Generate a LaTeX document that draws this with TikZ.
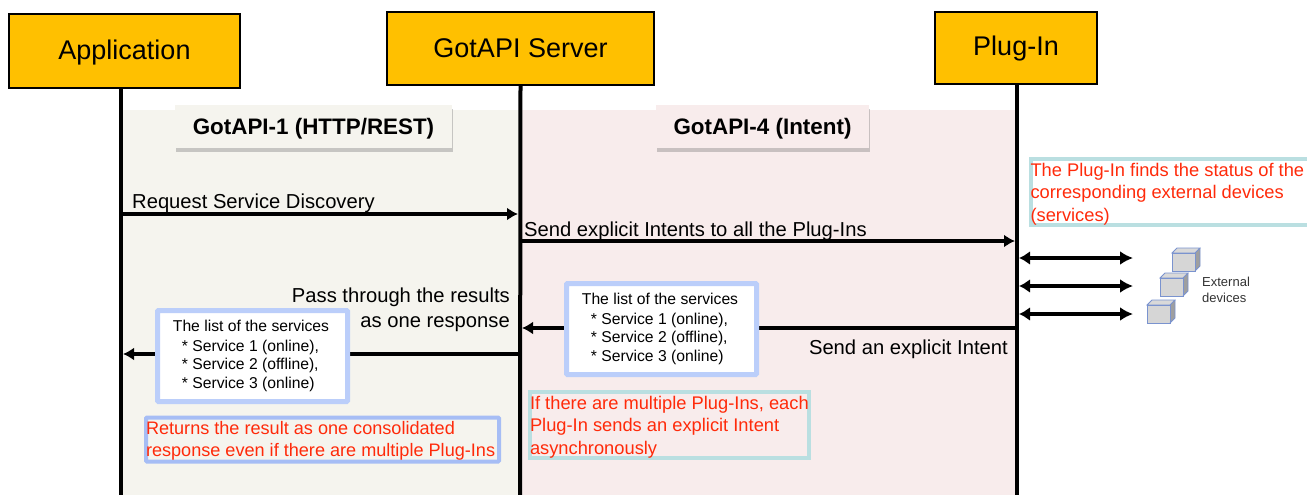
\documentclass[tikz,border=0pt]{standalone}
\usepackage{fontspec}
\setmainfont{Liberation Sans}
\usetikzlibrary{positioning,arrows.meta,calc,shadows}

\definecolor{headfill}{HTML}{FFC000}
\definecolor{leftzone}{HTML}{F5F4EE}
\definecolor{rightzone}{HTML}{F8ECEC}
\definecolor{listedge}{HTML}{BBCEFA}
\definecolor{noteblue}{HTML}{A6BDF5}
\definecolor{noteteal}{HTML}{BADFE1}
\definecolor{notered}{HTML}{FF2A0A}
\definecolor{cubeedge}{HTML}{7A93CF}

\newcommand{\noteblock}[4]{\raisebox{#1}[#2][#2]{\parbox[c]{#3}{#4}}}

\begin{document}
\begin{tikzpicture}[
  x=1pt, y=-1pt,
  head/.style={draw, line width=2pt, fill=headfill, inner sep=0pt, font=\fontsize{27}{30}\selectfont},
  tab/.style={inner sep=0pt, minimum height=43pt, font=\bfseries\fontsize{22.4}{24}\selectfont, drop shadow={shadow xshift=1pt, shadow yshift=-4pt, opacity=0.4}},
  life/.style={line width=4pt},
  arr/.style={-{Latex[length=11pt,width=13pt]}, line width=4pt},
  both/.style={{Latex[length=11pt,width=14pt]}-{Latex[length=13pt,width=14pt]}, line width=4.5pt},
  msg/.style={inner sep=0pt, font=\fontsize{20.2}{25}\selectfont},
  list/.style={draw=listedge, line width=5pt, fill=white, rounded corners=1pt, inner sep=0pt, align=left, font=\fontsize{15.7}{18.8}\selectfont},
  note/.style={line width=4pt, inner sep=0pt, text=notered, font=\fontsize{18.3}{22.2}\selectfont},
  cubeside/.style={draw=cubeedge, line width=0.8pt}
]
\useasboundingbox (0,0) rectangle (1307,495);

% zones
\fill[leftzone] (121,110) rectangle (520,495);
\fill[rightzone] (520,110) rectangle (1017,495);

% nodes
\node[head, minimum width=231pt, minimum height=74pt] (app) at (124.5,51) {\raisebox{-8.5pt}[0pt][0pt]{Application}};
\node[head, minimum width=267pt, minimum height=73pt] (server) at (520.5,48.5) {GotAPI Server};
\node[head, minimum width=162pt, minimum height=72pt] (plugin) at (1016,48) {\raisebox{-8pt}[0pt][0pt]{Plug-In}};

\node[tab, fill=leftzone, minimum width=277pt] (tabhttp) at (313.5,126.5) {\raisebox{-8pt}[0pt][0pt]{GotAPI-1 (HTTP/REST)}};
\node[tab, fill=rightzone, minimum width=213pt] (tabintent) at (762.5,126.5) {\raisebox{-8pt}[0pt][0pt]{GotAPI-4 (Intent)}};

% ends of the lifelines and messages
\coordinate (append) at (121,495);
\coordinate (serverend) at (520,495);
\coordinate (pluginend) at (1017,495);
\coordinate (reqa) at (121,214);
\coordinate (reqb) at (518,214);
\coordinate (senda) at (520,241);
\coordinate (sendb) at (1015,241);
\coordinate (backa) at (1017,328);
\coordinate (backb) at (522,328);
\coordinate (passa) at (520,354);
\coordinate (passb) at (123,354);
\coordinate (deva) at (1019,258);
\coordinate (devb) at (1133,258);
\coordinate (devc) at (1019,286);
\coordinate (devd) at (1133,286);
\coordinate (deve) at (1019,314);
\coordinate (devf) at (1133,314);

% arrows
\draw[life] ([xshift=-3.5pt]app.south) -- (append);
\draw[life] (server.south) -- (serverend);
\draw[life] ([xshift=1pt]plugin.south) -- (pluginend);

\draw[arr] (reqa) -- (reqb);
\draw[arr] (senda) -- (sendb);
\draw[arr] (backa) -- (backb);
\draw[arr] (passa) -- (passb);
\draw[both] (deva) -- (devb);
\draw[both] (devc) -- (devd);
\draw[both] (deve) -- (devf);

% labels
\node[msg, anchor=west] (reqlabel) at (132,203) {Request Service Discovery};
\node[msg, anchor=west] (sendlabel) at (524,231) {Send explicit Intents to all the Plug-Ins};
\node[msg, anchor=east] (backlabel) at (1008,349) {Send an explicit Intent};
\node[msg, anchor=north east, align=right] (passlabel) at (510,288) {Pass through the results\\as one response};

\node[list, minimum width=190pt, minimum height=91pt] (listright) at (661.5,329) {\raisebox{1pt}{The list of the services}\hspace*{3pt}\\\hspace*{9pt}* Service 1 (online),\\\hspace*{9pt}* Service 2 (offline),\\\hspace*{9pt}* Service 3 (online)};
\node[list, minimum width=190pt, minimum height=91pt] (listleft) at (252.5,356) {\raisebox{1pt}{The list of the services}\hspace*{3pt}\\\hspace*{9pt}* Service 1 (online),\\\hspace*{9pt}* Service 2 (offline),\\\hspace*{9pt}* Service 3 (online)};

\node[note, draw=noteblue, rounded corners=1pt, font=\fontsize{18.1}{22.2}\selectfont] (noteresult) at (322.5,439.5) {\noteblock{-5.5pt}{22pt}{353pt}{Returns the result as one consolidated\\response even if there are multiple Plug-Ins}};
\node[note, draw=noteteal] (noteasync) at (669.5,425) {\noteblock{-6.5pt}{33pt}{279pt}{If there are multiple Plug-Ins, each\\Plug-In sends an explicit Intent\\asynchronously}};
\node[note, draw=noteteal] (notestatus) at (1170,192) {\noteblock{-6.5pt}{33pt}{279pt}{The Plug-In finds the status of the\\corresponding external devices\\(services)}};

% external devices
\foreach \cx/\cy/\cname in {1172/253/one,1160/278/two,1147/305/three}{
  \fill[gray!75] (\cx+23,\cy) -- ++(5,-5) -- ++(0,18) -- ++(-5,5) -- cycle;
  \draw[cubeside, fill=gray!30] (\cx,\cy) -- ++(5,-5) -- ++(23,0) -- ++(-5,5) -- cycle;
  \draw[cubeside, fill=gray!32] (\cx,\cy) rectangle ++(23,18);
  \draw[cubeside] (\cx+23,\cy+18) -- ++(5,-5) -- ++(0,-18);
}
\node[anchor=west, inner sep=0pt, align=left, text=black!80, font=\fontsize{13}{16}\selectfont] (devlabel) at (1202,290) {External\\devices};

\end{tikzpicture}
\end{document}
